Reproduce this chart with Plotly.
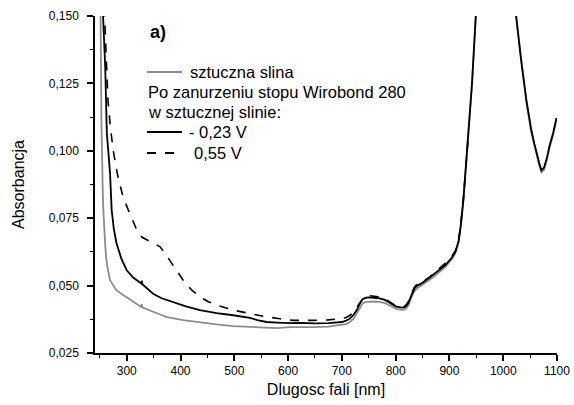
import plotly.graph_objects as go

# sztuczna slina (grey)
x_grey = [245, 250, 253, 256, 258, 260, 262, 264, 269, 275, 280, 290, 300, 314, 327, 328, 329, 350, 375, 405, 436, 467, 498, 530, 560, 580, 603, 625, 647, 675, 700, 708, 715, 722, 728, 734, 739, 745, 750, 760, 770, 780, 790, 801, 812, 816, 820, 824, 828, 832, 835, 840, 848, 862, 878, 893, 905, 911, 917, 921, 926, 935, 942, 949, 960, 975, 990, 1005, 1015, 1024, 1033, 1043, 1052, 1058, 1062, 1067, 1071, 1076, 1081, 1086, 1093, 1099]
y_grey = [0.300, 0.160, 0.110, 0.080, 0.071, 0.065, 0.060, 0.057, 0.052, 0.0500, 0.0485, 0.0470, 0.0456, 0.0437, 0.0421, 0.0431, 0.0419, 0.0402, 0.0383, 0.0372, 0.0363, 0.0356, 0.0350, 0.0346, 0.0343, 0.0342, 0.0346, 0.0345, 0.0346, 0.0348, 0.0353, 0.0357, 0.0365, 0.0378, 0.0397, 0.0420, 0.0435, 0.0440, 0.0441, 0.0441, 0.0440, 0.0435, 0.0425, 0.0414, 0.0410, 0.0411, 0.0416, 0.0428, 0.0450, 0.0468, 0.0480, 0.0490, 0.0500, 0.0520, 0.0545, 0.0570, 0.0600, 0.0620, 0.0660, 0.0718, 0.0817, 0.105, 0.125, 0.150, 0.190, 0.240, 0.260, 0.230, 0.180, 0.150, 0.134, 0.118, 0.107, 0.1015, 0.098, 0.0945, 0.0920, 0.0930, 0.0965, 0.1010, 0.1060, 0.1115]

# -0,23 V (solid black)
x_m023 = [245, 252, 256, 260, 263, 266, 269, 272, 276, 281, 290, 300, 312, 327, 328, 329, 338, 349, 365, 386, 410, 436, 467, 498, 529, 545, 560, 580, 603, 625, 647, 675, 700, 708, 715, 722, 728, 734, 739, 745, 750, 760, 770, 780, 790, 801, 812, 816, 820, 824, 828, 832, 835, 840, 848, 862, 878, 893, 905, 911, 917, 921, 926, 935, 942, 949, 960, 975, 990, 1005, 1015, 1024, 1033, 1043, 1052, 1058, 1062, 1067, 1071, 1076, 1081, 1086, 1093, 1099]
y_m023 = [0.300, 0.180, 0.150, 0.131, 0.1066, 0.098, 0.0917, 0.078, 0.0710, 0.0657, 0.0600, 0.0557, 0.0530, 0.0508, 0.0518, 0.0505, 0.0488, 0.0470, 0.0453, 0.0439, 0.0423, 0.0409, 0.0398, 0.0390, 0.0380, 0.0371, 0.0365, 0.0363, 0.0361, 0.0362, 0.0360, 0.0361, 0.0365, 0.0370, 0.0378, 0.0392, 0.0410, 0.0435, 0.0450, 0.0455, 0.0456, 0.0455, 0.0453, 0.0447, 0.0435, 0.0422, 0.0418, 0.0419, 0.0425, 0.0437, 0.0458, 0.0478, 0.0490, 0.0500, 0.0508, 0.0528, 0.0552, 0.0577, 0.0605, 0.0625, 0.0665, 0.0722, 0.0820, 0.105, 0.125, 0.150, 0.190, 0.240, 0.260, 0.230, 0.180, 0.150, 0.134, 0.119, 0.108, 0.1025, 0.099, 0.0955, 0.0928, 0.0938, 0.0972, 0.1018, 0.1068, 0.1122]

# 0,55 V (dashed black)
x_p055 = [245, 255, 260, 265, 270, 275, 283, 293, 303, 311, 319, 328, 338, 350, 362, 371, 380, 392, 405, 420, 436, 452, 468, 498, 530, 560, 585, 609, 647, 675, 700, 708, 715, 722, 728, 735, 742, 748, 755, 770, 780, 790, 801, 812, 816, 820, 824, 828, 832, 835, 840, 848, 862, 878, 893, 905, 911, 917, 921, 926, 935]
y_p055 = [0.300, 0.175, 0.144, 0.119, 0.108, 0.100, 0.091, 0.083, 0.078, 0.0740, 0.0705, 0.0680, 0.0670, 0.0658, 0.0644, 0.0620, 0.0594, 0.0555, 0.0520, 0.0485, 0.0458, 0.0440, 0.0427, 0.0409, 0.0395, 0.0384, 0.0377, 0.0371, 0.0371, 0.0373, 0.0378, 0.0382, 0.0390, 0.0403, 0.0420, 0.0442, 0.0460, 0.0463, 0.0462, 0.0458, 0.0450, 0.0438, 0.0425, 0.0421, 0.0422, 0.0430, 0.0442, 0.0462, 0.0482, 0.0495, 0.0505, 0.0512, 0.0530, 0.0558, 0.0584, 0.0610, 0.0630, 0.0668, 0.0725, 0.0825, 0.105]

x_ticks = [300, 400, 500, 600, 700, 800, 900, 1000, 1100]
y_ticks = [0.025, 0.050, 0.075, 0.100, 0.125, 0.150]

FONT = "Liberation Sans, Arial, sans-serif"

fig = go.Figure()
fig.add_trace(go.Scatter(x=x_grey, y=y_grey, mode="lines", line=dict(color="#8c8c8c", width=1.8), showlegend=False))
fig.add_trace(go.Scatter(x=x_m023, y=y_m023, mode="lines", line=dict(color="black", width=1.8), showlegend=False))
fig.add_trace(go.Scatter(x=x_p055, y=y_p055, mode="lines", line=dict(color="black", width=1.6, dash="dash"), showlegend=False))

L, R, T, B = 95, 17, 16, 52
W, H = 574, 405
pw, ph = W - L - R, H - T - B

def px(x):
    return (x - L) / pw

def py(y):
    return (H - B - y) / ph

# legend drawn manually
legend_rows = [
    ("line", "#8c8c8c", "solid", 72, "sztuczna slina", 188),
    ("text", None, None, 92, "Po zanurzeniu stopu Wirobond 280", 146),
    ("text", None, None, 112, "w sztucznej slinie:", 146),
    ("line", "black", "solid", 132, "- 0,23 V", 187),
    ("line", "black", "dash", 153, "0,55 V", 192),
]
shapes = []
annotations = []
for kind, col, dash, yy, txt, tx in legend_rows:
    if kind == "line":
        shapes.append(dict(type="line", xref="paper", yref="paper", x0=px(147), x1=px(182), y0=py(yy), y1=py(yy),
                           line=dict(color=col, width=1.8, dash=dash)))
    annotations.append(dict(xref="paper", yref="paper", x=px(tx), y=py(yy), text=txt, showarrow=False,
                            xanchor="left", yanchor="middle", font=dict(family=FONT, size=16.5, color="black")))

annotations.append(dict(xref="paper", yref="paper", x=px(148), y=py(32), text="<b>a)</b>", showarrow=False,
                        xanchor="left", yanchor="middle", font=dict(family=FONT, size=18, color="black")))

fig.update_layout(
    width=W, height=H,
    margin=dict(l=L, r=R, t=T, b=B),
    paper_bgcolor="white", plot_bgcolor="white",
    separators=", ",
    font=dict(family=FONT, size=12, color="black"),
    shapes=shapes, annotations=annotations,
    showlegend=False,
)
fig.update_xaxes(
    range=[241, 1100], tickvals=x_ticks, tickformat="d", automargin=False,
    showgrid=False, zeroline=False, showline=True, linecolor="black", linewidth=1.5,
    ticks="outside", ticklen=6, tickwidth=1.5, tickcolor="black", ticklabelstandoff=0,
    minor=dict(ticks="outside", ticklen=3, tickwidth=1.2, tickcolor="black", dtick=50, tick0=250),
    title=dict(text="Dlugosc fali [nm]", font=dict(family=FONT, size=16), standoff=7),
    tickfont=dict(family=FONT, size=12),
)
fig.update_yaxes(
    range=[0.025, 0.150], tickvals=y_ticks, tickformat=".3f", automargin=False,
    showgrid=False, zeroline=False, showline=True, linecolor="black", linewidth=1.5,
    ticks="outside", ticklen=6, tickwidth=1.5, tickcolor="black", ticklabelstandoff=6,
    minor=dict(ticks="outside", ticklen=3, tickwidth=1.2, tickcolor="black", dtick=0.0125, tick0=0.025),
    title=dict(text="Absorbancja", font=dict(family=FONT, size=16), standoff=20),
    tickfont=dict(family=FONT, size=12),
)

fig.write_html("out.html")
